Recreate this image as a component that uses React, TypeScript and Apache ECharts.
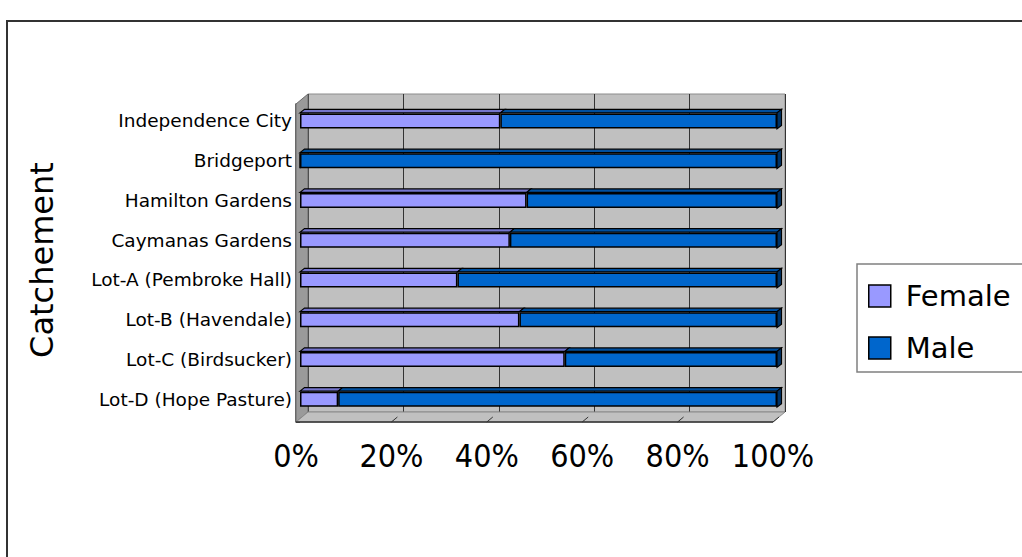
import React, { useEffect, useRef } from "react";
import * as echarts from "echarts";

const categories = [
  "Independence City",
  "Bridgeport",
  "Hamilton Gardens",
  "Caymanas Gardens",
  "Lot-A (Pembroke Hall)",
  "Lot-B (Havendale)",
  "Lot-C (Birdsucker)",
  "Lot-D (Hope Pasture)",
];
const female = [42, 0, 47.5, 44, 33, 46, 55.5, 8];
const male = [58, 100, 52.5, 56, 67, 54, 44.5, 92];
const xTicks = [0, 20, 40, 60, 80, 100];
const xTickLabels = ["0%", "20%", "40%", "60%", "80%", "100%"];

// layout
const BACK = { left: 308, top: 94, width: 477, height: 318 };
const BARS = { left: 300, top: 101, width: 477, height: 318 };
const FRONT = { left: 296, top: 104, width: 477, height: 318 };

export default function App() {
  const ref = useRef<HTMLDivElement>(null);
  useEffect(() => {
    if (!ref.current) return;
    const chart = echarts.init(ref.current, null, { renderer: "svg" });
    const fb = FRONT.top + FRONT.height;
    const bb = BACK.top + BACK.height;
    const step = FRONT.width / (xTicks.length - 1);
    const floorTicks = xTicks.slice(1).map((_, k) => ({
      type: "line",
      z: 1,
      silent: true,
      shape: {
        x1: FRONT.left + step * (k + 1),
        y1: fb,
        x2: FRONT.left + step * (k + 1) + 6,
        y2: fb - 5,
      },
      style: { stroke: "#333", lineWidth: 1 },
    }));
    const option: any = {
      animation: false,
      grid: [
        {
          ...BACK,
          show: true,
          backgroundColor: "#C0C0C0",
          borderColor: "#8c8c8c",
          borderWidth: 1,
        },
        { ...BARS },
        { ...FRONT },
      ],
      xAxis: [
        {
          gridIndex: 0,
          type: "value",
          min: 0,
          max: 100,
          interval: 20,
          axisLabel: { show: false },
          axisLine: { show: false },
          axisTick: { show: false },
          splitLine: { show: true, lineStyle: { color: "#333", width: 1 } },
        },
        { gridIndex: 1, type: "value", min: 0, max: 100, show: false },
        {
          gridIndex: 2,
          type: "value",
          min: 0,
          max: 100,
          interval: 20,
          axisLine: { show: false },
          axisTick: { show: false },
          splitLine: { show: false },
          axisLabel: {
            formatter: (v: number) => xTickLabels[xTicks.indexOf(v)],
            fontSize: 32,
            fontFamily: "DejaVu Sans Condensed, DejaVu Sans, sans-serif",
            color: "#000",
            margin: 18,
          },
        },
      ],
      yAxis: [
        { gridIndex: 0, type: "category", data: categories, show: false },
        {
          gridIndex: 1,
          type: "category",
          data: categories,
          inverse: true,
          axisLine: { show: false },
          axisTick: { show: false },
          axisLabel: {
            fontSize: 18.5,
            fontFamily: "DejaVu Sans",
            color: "#000",
            margin: 8,
          },
          name: "Catchement",
          nameLocation: "middle",
          nameRotate: 90,
          nameGap: 242,
          nameTextStyle: { fontSize: 32, fontFamily: "DejaVu Sans", color: "#000" },
        },
        {
          gridIndex: 2,
          type: "category",
          data: categories,
          inverse: true,
          axisLine: { show: true, lineStyle: { color: "#333", width: 1.5 } },
          axisTick: { show: true, inside: true, length: 4, lineStyle: { color: "#333" } },
          axisLabel: { show: false },
        },
      ],
      legend: {
        data: ["Female", "Male"],
        orient: "vertical",
        left: 857,
        top: 264,
        itemWidth: 22,
        itemHeight: 22,
        itemGap: 22,
        icon: "rect",
        padding: [17, 60, 9, 11],
        backgroundColor: "#fff",
        borderColor: "#808080",
        borderWidth: 1.5,
        textStyle: {
          fontSize: 29,
          fontFamily: "DejaVu Sans",
          color: "#000",
          lineHeight: 30,
          padding: [0, 0, 0, 10],
        },
        itemStyle: { borderColor: "#000", borderWidth: 1.5 },
      },
      graphic: [
        {
          type: "rect",
          z: 0,
          silent: true,
          shape: { x: 7, y: 21, width: 1100, height: 700 },
          style: { fill: "none", stroke: "#333", lineWidth: 2 },
        },
        {
          type: "polygon",
          z: 1,
          silent: true,
          shape: {
            points: [
              [FRONT.left, FRONT.top],
              [BACK.left, BACK.top],
              [BACK.left, bb],
              [FRONT.left, fb],
            ],
          },
          style: { fill: "#9a9a9a", stroke: "#6a6a6a", lineWidth: 1 },
        },
        {
          type: "polygon",
          z: 1,
          silent: true,
          shape: {
            points: [
              [FRONT.left, fb],
              [BACK.left, bb],
              [BACK.left + BACK.width, bb],
              [FRONT.left + FRONT.width, fb],
            ],
          },
          style: { fill: "#C0C0C0", stroke: "#8a8a8a", lineWidth: 1 },
        },
        {
          type: "line",
          z: 1,
          silent: true,
          shape: { x1: FRONT.left, y1: fb, x2: FRONT.left + FRONT.width, y2: fb },
          style: { stroke: "#333", lineWidth: 1.5 },
        },
        ...floorTicks,
      ],
      series: [
        {
          name: "Female",
          type: "bar",
          stack: "total",
          xAxisIndex: 1,
          yAxisIndex: 1,
          barWidth: 15,
          data: female,
          itemStyle: { color: "#9999FF", borderColor: "#000", borderWidth: 1.5 },
          z: 3,
        },
        {
          name: "Male",
          type: "bar",
          stack: "total",
          xAxisIndex: 1,
          yAxisIndex: 1,
          barWidth: 15,
          data: male,
          itemStyle: { color: "#0066CC", borderColor: "#000", borderWidth: 1.5 },
          z: 3,
        },
        {
          name: "depth",
          type: "custom",
          xAxisIndex: 1,
          yAxisIndex: 1,
          z: 4,
          silent: true,
          encode: { y: 0, x: [1, 2] },
          data: categories.map((_, i) => [i, female[i], female[i] + male[i]]),
          renderItem: (params: any, api: any) => {
            const i = api.value(0);
            const f = api.value(1);
            const t = api.value(2);
            const p0 = api.coord([0, i]);
            const pf = api.coord([f, i]);
            const pt = api.coord([t, i]);
            const top = p0[1] - 8;
            const h = 16;
            const dx = 4.5;
            const dy = 3.5;
            const st = { stroke: "#000", lineWidth: 1.2 };
            const children: any[] = [];
            if (f > 0) {
              children.push({
                type: "polygon",
                shape: {
                  points: [
                    [p0[0], top],
                    [p0[0] + dx, top - dy],
                    [pf[0] + dx, top - dy],
                    [pf[0], top],
                  ],
                },
                style: { fill: "#7575CC", ...st },
              });
            }
            children.push({
              type: "polygon",
              shape: {
                points: [
                  [pf[0], top],
                  [pf[0] + dx, top - dy],
                  [pt[0] + dx, top - dy],
                  [pt[0], top],
                ],
              },
              style: { fill: "#004F9E", ...st },
            });
            children.push({
              type: "polygon",
              shape: {
                points: [
                  [pt[0], top],
                  [pt[0] + dx, top - dy],
                  [pt[0] + dx, top - dy + h],
                  [pt[0], top + h],
                ],
              },
              style: { fill: "#003366", ...st },
            });
            return { type: "group", children };
          },
        },
      ],
    };
    chart.setOption(option);
    return () => chart.dispose();
  }, []);
  return (
    <div
      ref={ref}
      style={{ position: "absolute", left: 0, top: 0, width: 1022, height: 557 }}
    />
  );
}
